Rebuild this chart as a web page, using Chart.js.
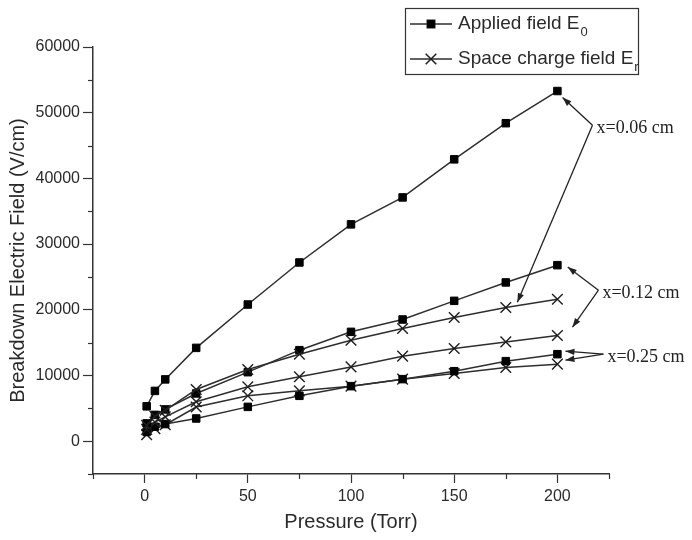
<!DOCTYPE html>
<html>
<head>
<meta charset="utf-8">
<script src="https://cdn.jsdelivr.net/npm/chart.js@4.4.1/dist/chart.umd.min.js"></script>
<style>
  html, body { margin: 0; padding: 0; background: #ffffff; }
  #wrap { width: 692px; height: 540px; position: relative; }
</style>
</head>
<body>
<div id="wrap"><canvas id="c" width="692" height="540"></canvas></div>
<script>
// ---- Data ----
const pressure = [1, 5, 10, 25, 50, 75, 100, 125, 150, 175, 200];

const appliedX006 = [5300, 7650, 9400, 14200, 20800, 27200, 33000, 37100, 42900, 48400, 53300];
const spaceX006   = [2400, 3800, 4700, 7870, 10900, 13240, 15370, 17150, 18830, 20350, 21610];
const appliedX012 = [2700, 4000, 4830, 7260, 10500, 13850, 16640, 18520, 21360, 24160, 26790];
const spaceX012   = [1800, 2900, 3700, 6000, 8270, 9800, 11300, 12940, 14110, 15110, 16090];
const appliedX025 = [1400, 2200, 2600, 3450, 5220, 6900, 8370, 9440, 10650, 12180, 13240];
const spaceX025   = [1000, 1900, 2500, 5200, 6900, 7660, 8370, 9440, 10300, 11220, 11720];

const xTickValues = [0, 50, 100, 150, 200];
const xMinorTicks = [-25, 25, 75, 125, 175, 225];
const yTickValues = [0, 10000, 20000, 30000, 40000, 50000, 60000];
const yMinorTicks = [-5000, 5000, 15000, 25000, 35000, 45000, 55000];

const legendLabels = [
  { main: 'Applied field E', sub: '0', marker: 'rect' },
  { main: 'Space charge field E', sub: 'r', marker: 'crossRot' }
];

// annotation labels and arrow targets, in data units (pressure, field)
const annotationLabels = ['x=0.06 cm', 'x=0.12 cm', 'x=0.25 cm'];
const annotationVertex = [[217, 48100], [219.9, 22980], [222.3, 13240]];
const annotationTargets = [
  [[202.5, 52300], [180.6, 21150]],
  [[205, 26500], [207.3, 17350]],
  [[203.9, 13700], [203.9, 12330]]
];

// ---- Styling ----
const SANS = '"Liberation Sans", Arial, Helvetica, sans-serif';
const SERIF = '"Liberation Serif", "Times New Roman", serif';
const LINE = '#2e2e2e';
const INK = '#222222';
const RECT_R = 5.3, CROSS_R = 7.5;

function ds(label, data, marker) {
  const isRect = marker === 'rect';
  return {
    label, data: pressure.map((p, i) => ({ x: p, y: data[i] })),
    borderColor: LINE, borderWidth: 1.5, tension: 0,
    pointStyle: marker,
    pointRadius: isRect ? RECT_R : CROSS_R,
    pointBorderWidth: isRect ? 1 : 1.4,
    pointBackgroundColor: '#000', pointBorderColor: isRect ? '#000' : '#1e1e1e',
    pointHoverRadius: isRect ? RECT_R : CROSS_R
  };
}

const minorTicksPlugin = {
  id: 'minorTicks',
  afterDraw(chart) {
    const ctx = chart.ctx, xs = chart.scales.x, ys = chart.scales.y;
    const a = chart.chartArea;
    ctx.save();
    ctx.strokeStyle = '#333'; ctx.lineWidth = 1.2;
    xMinorTicks.forEach(v => {
      const px = Math.round(xs.getPixelForValue(v)) + 0.5;
      ctx.beginPath(); ctx.moveTo(px, a.bottom); ctx.lineTo(px, a.bottom + 5); ctx.stroke();
    });
    yMinorTicks.forEach(v => {
      const py = Math.round(ys.getPixelForValue(v)) + 0.5;
      ctx.beginPath(); ctx.moveTo(a.left, py); ctx.lineTo(a.left - 5, py); ctx.stroke();
    });
    ctx.restore();
  }
};

function arrow(ctx, x0, y0, x1, y1) {
  ctx.beginPath(); ctx.moveTo(x0, y0); ctx.lineTo(x1, y1); ctx.stroke();
  const ang = Math.atan2(y1 - y0, x1 - x0);
  const L = 9, W = 3.2;
  ctx.beginPath();
  ctx.moveTo(x1, y1);
  ctx.lineTo(x1 - L * Math.cos(ang) + W * Math.sin(ang), y1 - L * Math.sin(ang) - W * Math.cos(ang));
  ctx.lineTo(x1 - L * Math.cos(ang) - W * Math.sin(ang), y1 - L * Math.sin(ang) + W * Math.cos(ang));
  ctx.closePath(); ctx.fill();
}

const annotationPlugin = {
  id: 'annot',
  afterDraw(chart) {
    const ctx = chart.ctx, xs = chart.scales.x, ys = chart.scales.y;
    ctx.save();
    ctx.strokeStyle = INK; ctx.fillStyle = INK; ctx.lineWidth = 1.3;
    annotationLabels.forEach((lab, i) => {
      const vx = xs.getPixelForValue(annotationVertex[i][0]);
      const vy = ys.getPixelForValue(annotationVertex[i][1]);
      annotationTargets[i].forEach(t => {
        arrow(ctx, vx, vy, xs.getPixelForValue(t[0]), ys.getPixelForValue(t[1]));
      });
      ctx.font = '18px ' + SERIF;
      ctx.textBaseline = 'middle'; ctx.textAlign = 'left';
      ctx.fillText(lab, vx + 4, vy + 3);
    });
    ctx.restore();
  }
};

const legendPlugin = {
  id: 'customLegend',
  afterDraw(chart) {
    const ctx = chart.ctx;
    const bx = 405.5, by = 8.5, bw = 233, bh = 66;
    ctx.save();
    ctx.fillStyle = '#fff';
    ctx.fillRect(bx, by, bw, bh);
    ctx.strokeStyle = '#333'; ctx.lineWidth = 1.2;
    ctx.strokeRect(bx, by, bw, bh);
    const rows = [24, 59];
    legendLabels.forEach((item, i) => {
      const y = rows[i];
      ctx.strokeStyle = LINE; ctx.lineWidth = 1.5;
      ctx.beginPath(); ctx.moveTo(410, y); ctx.lineTo(452, y); ctx.stroke();
      const isRect = item.marker === 'rect';
      ctx.fillStyle = '#000'; ctx.strokeStyle = '#1e1e1e';
      Chart.helpers.drawPoint(ctx, {
        pointStyle: item.marker, radius: isRect ? RECT_R : CROSS_R, borderWidth: isRect ? 1 : 1.4
      }, 431, y);
      if (isRect) {
        const s = RECT_R * Math.SQRT1_2;
        ctx.fillRect(431 - s, y - s, 2 * s, 2 * s);
      }
      ctx.fillStyle = '#2a2a2a';
      ctx.font = '19px ' + SANS;
      ctx.textBaseline = 'middle'; ctx.textAlign = 'left';
      ctx.fillText(item.main, 458, y);
      const w = ctx.measureText(item.main).width;
      ctx.font = '13px ' + SANS;
      ctx.fillText(item.sub, 458 + w + 1, y + 8);
    });
    ctx.restore();
  }
};

new Chart(document.getElementById('c'), {
  type: 'line',
  data: {
    datasets: [
      ds('Applied field E0 (x=0.06 cm)', appliedX006, 'rect'),
      ds('Space charge field Er (x=0.06 cm)', spaceX006, 'crossRot'),
      ds('Applied field E0 (x=0.12 cm)', appliedX012, 'rect'),
      ds('Space charge field Er (x=0.12 cm)', spaceX012, 'crossRot'),
      ds('Applied field E0 (x=0.25 cm)', appliedX025, 'rect'),
      ds('Space charge field Er (x=0.25 cm)', spaceX025, 'crossRot')
    ]
  },
  options: {
    responsive: false, animation: false,
    layout: { padding: { left: 0, right: 83, top: 47, bottom: 0 } },
    plugins: { legend: { display: false }, tooltip: { enabled: false } },
    scales: {
      x: {
        type: 'linear', min: -25, max: 225,
        afterBuildTicks: s => { s.ticks = xTickValues.map(v => ({ value: v })); },
        afterFit: s => { s.height = 66; },
        grid: { display: true, drawOnChartArea: false, drawTicks: true, tickLength: 9, tickColor: '#333', tickWidth: 1.2 },
        border: { display: true, color: '#333', width: 1.5 },
        ticks: { color: '#2a2a2a', font: { family: SANS, size: 16 }, padding: 4, maxRotation: 0, callback: v => String(v) },
        title: { display: true, text: 'Pressure (Torr)', color: '#2a2a2a', font: { family: SANS, size: 20 }, padding: { top: 2, bottom: 6 } }
      },
      y: {
        type: 'linear', min: -5000, max: 60000,
        afterBuildTicks: s => { s.ticks = yTickValues.map(v => ({ value: v })); },
        afterFit: s => { s.width = 93; },
        grid: { display: true, drawOnChartArea: false, drawTicks: true, tickLength: 10, tickColor: '#333', tickWidth: 1.2 },
        border: { display: true, color: '#333', width: 1.5 },
        ticks: { color: '#2a2a2a', font: { family: SANS, size: 16 }, padding: 3, callback: v => String(v) },
        title: { display: true, text: 'Breakdown Electric Field (V/cm)', color: '#2a2a2a', font: { family: SANS, size: 20 }, padding: { top: 6, bottom: 4 } }
      }
    }
  },
  plugins: [minorTicksPlugin, annotationPlugin, legendPlugin]
});
</script>
</body>
</html>
